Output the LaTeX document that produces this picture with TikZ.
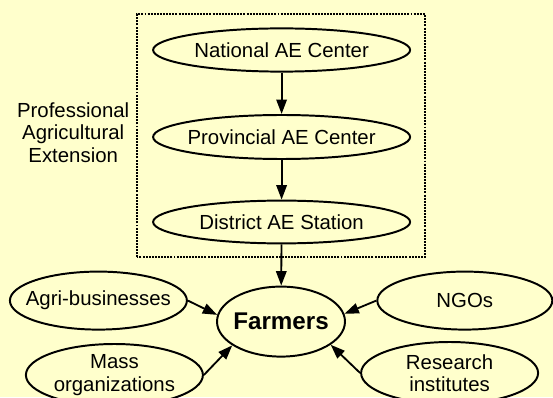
\documentclass[tikz,border=0pt]{standalone}
\usepackage{fontspec}
\setmainfont{Liberation Sans}
\usepackage{tikz}
\usetikzlibrary{arrows.meta}
\usetikzlibrary{shapes}

\definecolor{slidebg}{HTML}{FFFFCC}

\begin{document}
\begin{tikzpicture}[
    font=\fontsize{14.5}{15.8}\selectfont,
    unit/.style={ellipse, draw, line width=1.4pt, fill=slidebg,
      inner ysep=0pt, inner xsep=-8pt, align=center},
    flow/.style={line width=1.3pt, -{Triangle[length=3.6mm,width=2.6mm]}}
  ]
  %% page
  \useasboundingbox (0,0) rectangle (13.825,9.925);
  \clip (0,0) rectangle (13.825,9.925);
  \fill[slidebg] (0,0) rectangle (13.825,9.925);

  %% extension chain
  \draw[line width=1.5pt, dash pattern=on 1.4pt off 0.8pt]
    (3.43,3.49) rectangle (10.625,9.57);
  \node[align=center] (pae) at (1.83,6.61)
    {Professional\\Agricultural\\Extension};

  \node[unit, minimum width=6.425cm, minimum height=1.08cm] (nat) at (7.04,8.675)
    {National AE Center};
  \node[unit, minimum width=6.425cm, minimum height=1.1cm] (prov) at (7.04,6.5)
    {Provincial AE Center};
  \node[unit, minimum width=6.425cm, minimum height=1.07cm] (dist) at (7.04,4.375)
    {District AE Station};

  %% farmers and the others
  \node[unit, minimum width=3.2cm, minimum height=1.75cm,
    font=\fontsize{17.2}{19}\selectfont\bfseries] (farm) at (7.025,1.885) {Farmers};
  \node[unit, minimum width=4.425cm, minimum height=1.45cm] (agri) at (2.46,2.41)
    {Agri-businesses};
  \node[unit, minimum width=4.375cm, minimum height=1.45cm] (ngo) at (11.62,2.41)
    {NGOs};
  \node[unit, minimum width=4.425cm, minimum height=1.55cm] (mass) at (2.86,0.55)
    {Mass\\organizations};
  \node[unit, minimum width=4.425cm, minimum height=1.55cm] (res) at (11.24,0.6)
    {Research\\institutes};

  % arrows
  \draw[flow] (nat) -- (prov);
  \draw[flow] (prov) -- (dist);
  \draw[flow] (dist) -- (farm);
  \draw[flow] (agri.east) -- (farm.174);
  \draw[flow] (ngo.west) -- (farm.7);
  \draw[flow] (mass.east) -- (farm.206);
  \draw[flow] (res.west) -- (farm.335);
\end{tikzpicture}
\end{document}
